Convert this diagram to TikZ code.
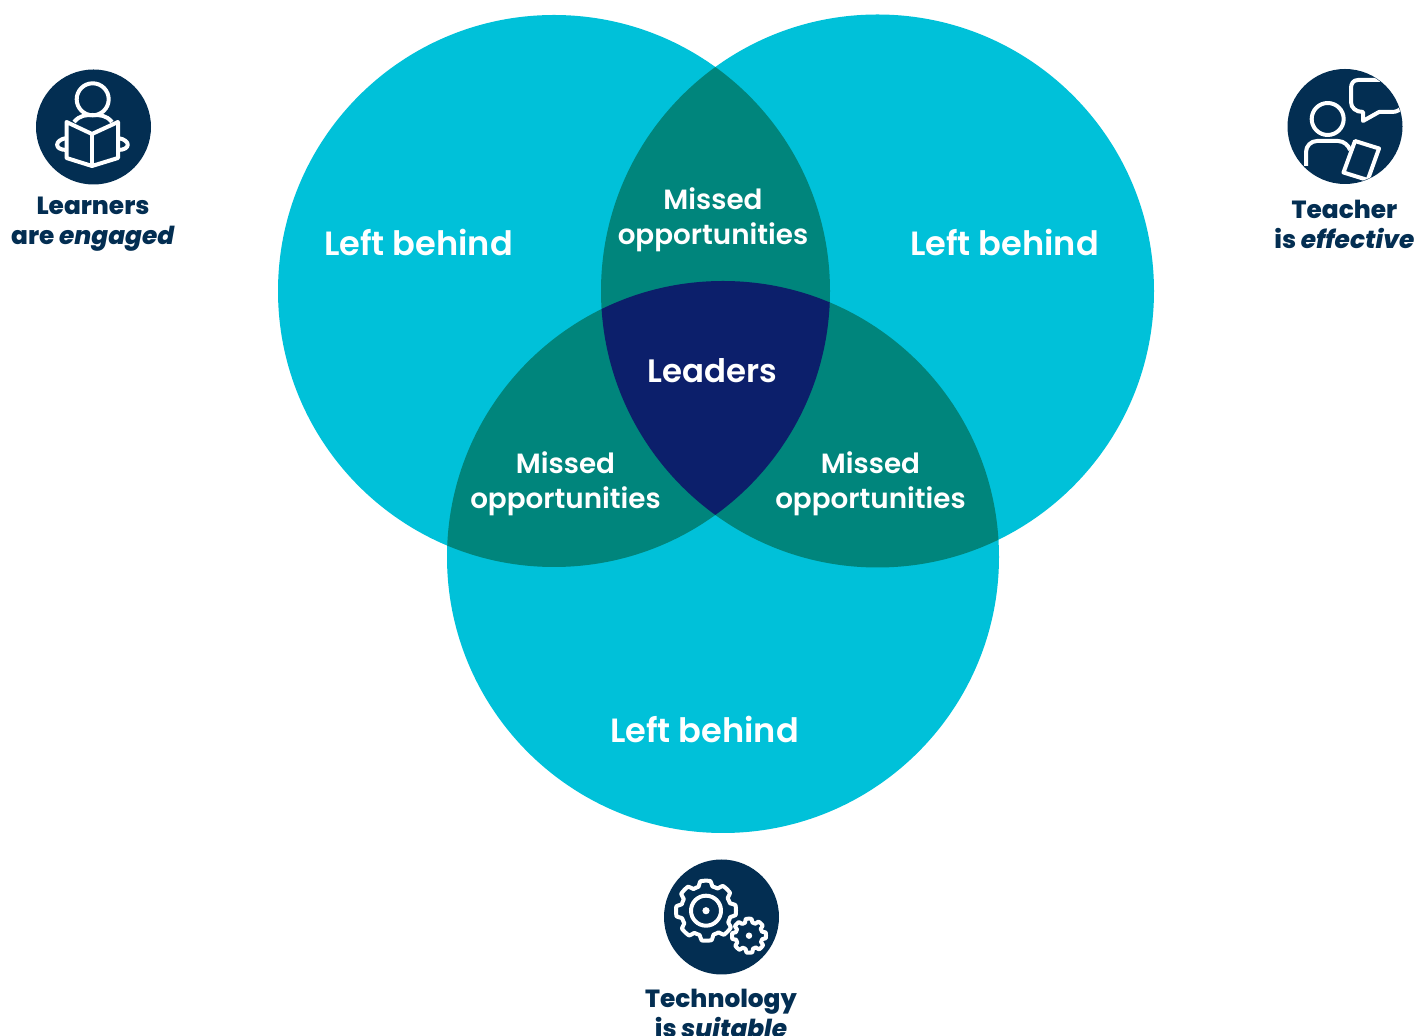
\documentclass[tikz,border=0pt]{standalone}
\usepackage{fontspec}
\setmainfont{Poppins}[BoldFont={Poppins SemiBold}]
\newfontfamily\heavyfont{Poppins}[UprightFont={Poppins ExtraBold},ItalicFont={Poppins ExtraBold Italic}]
\usetikzlibrary{positioning}

\definecolor{ringcyan}{HTML}{00C1D9}
\definecolor{overlapteal}{HTML}{00857C}
\definecolor{centernavy}{HTML}{0C1F6B}
\definecolor{iconnavy}{HTML}{032E52}

\begin{document}
\begin{tikzpicture}[x=0.5pt,y=-0.5pt]
\tikzstyle{ring}=[fill=ringcyan]
\tikzstyle{big}=[text=white, font=\bfseries\fontsize{16.8}{20}\selectfont]
\tikzstyle{lead}=[text=white, font=\bfseries\fontsize{16.2}{20}\selectfont]
\tikzstyle{small}=[text=white, font=\bfseries\fontsize{13.9}{17.5}\selectfont, align=center]
\tikzstyle{disc}=[circle, fill=iconnavy, minimum size=57.5pt, inner sep=0pt]
\tikzstyle{caption}=[text=iconnavy, font=\heavyfont\fontsize{12.4}{15}\selectfont, align=center]
\tikzstyle{iconline}=[draw=white, line width=2pt, line join=round]
\useasboundingbox (0,0) rectangle (1421,1036);

%%%%% CIRCLES
\coordinate (c_l) at (554,291);
\coordinate (c_r) at (877.5,291);
\coordinate (c_b) at (723,557);

\newcommand{\rl}{(c_l) circle (276)}
\newcommand{\rr}{(c_r) circle (276.5)}
\newcommand{\rb}{(c_b) circle (276)}

\fill[ring] \rl;
\fill[ring] \rr;
\fill[ring] \rb;

%%%%% OVERLAPS
\begin{scope}
\clip \rl;
\fill[overlapteal] \rr;
\fill[overlapteal] \rb;
\end{scope}
\begin{scope}
\clip \rr;
\fill[overlapteal] \rb;
\end{scope}
\begin{scope}
\clip \rl;
\clip \rr;
\fill[centernavy] \rb;
\end{scope}

%%%%% LABELS
\node[big] (left_l) at (418.5,242) {Left behind};
\node[big] (left_r) at (1004.5,242) {Left behind};
\node[big] (left_b) at (704.5,729) {Left behind};

\node[small] (miss_t) at (713,220) {Missed\\opportunities};
\node[small] (miss_l) at (565.5,484) {Missed\\opportunities};
\node[small] (miss_r) at (870.5,484) {Missed\\opportunities};

\node[lead] (leaders) at (712,370.5) {Leaders};

%%%%% ICON DISCS
\node[disc] (learn) at (93.5,127) {};
\node[disc] (teach) at (1345,126.5) {};
\node[disc] (tech) at (721.5,917) {};

\node[caption] (learn_t) at (93,224) {Learners\\are \textit{engaged}};
\node[caption] (teach_t) at (1344.5,224) {Teacher\\is \textit{effective}};
\node[caption] (tech_t) at (721,1013.5) {Technology\\is \textit{suitable}};

%%%%% LEARNERS ICON
\draw[iconline] (92.7,99.3) circle (16);
\draw[iconline] (74,122) .. controls (80,115) and (86,115) .. (92.7,115) .. controls (100,115) and (106,115) .. (112,122);
\draw[iconline] (92,134) -- (66.5,122) -- (66.5,158) -- (92,166) -- (118,158) -- (118,122) -- cycle;
\draw[iconline] (92,134) -- (92,166);
\draw[iconline] (66.5,138) .. controls (54,140) and (54,150) .. (66.5,150);
\draw[iconline] (118,138) .. controls (131,140) and (131,150) .. (118,150);

%%%%% TEACHER ICON
\begin{scope}
\clip (teach) circle (57);
\draw[iconline] (1327.7,119) circle (16);
\draw[iconline] (1306,166) -- (1306,152) .. controls (1306,146) and (1311,141) .. (1317,141) -- (1338,141) .. controls (1344,141) and (1349,146) .. (1350,150);
\draw[iconline] (1355,141) -- (1379,148.5) -- (1367.7,180) -- (1343.5,172.5) -- cycle;
\draw[iconline] (1380,80) -- (1358,80) .. controls (1353,80) and (1351,84) .. (1351,88) -- (1351,102) .. controls (1351,108) and (1356,112) .. (1363,112) -- (1363,121) -- (1379,112) -- (1392,112) .. controls (1397,112) and (1400,110) .. (1405,105);
\end{scope}

%%%%% TECHNOLOGY ICON
\newcommand{\gear}[5]{
\draw[iconline, shift={(#1,#2)}] plot[domain=0:360, samples=217] (\x:{#3+(#4-#3)*max(0,min(1,0.75+1.2*cos(#5*\x+10)))}) -- cycle;
}
\gear{706}{910.7}{25}{30}{8}
\gear{749}{935.7}{13.5}{17}{8}
\draw[iconline] (706,910.7) circle (15);
\fill[white] (706,910.7) circle (3.6);
\fill[white] (749,935.7) circle (3.2);

\end{tikzpicture}
\end{document}
